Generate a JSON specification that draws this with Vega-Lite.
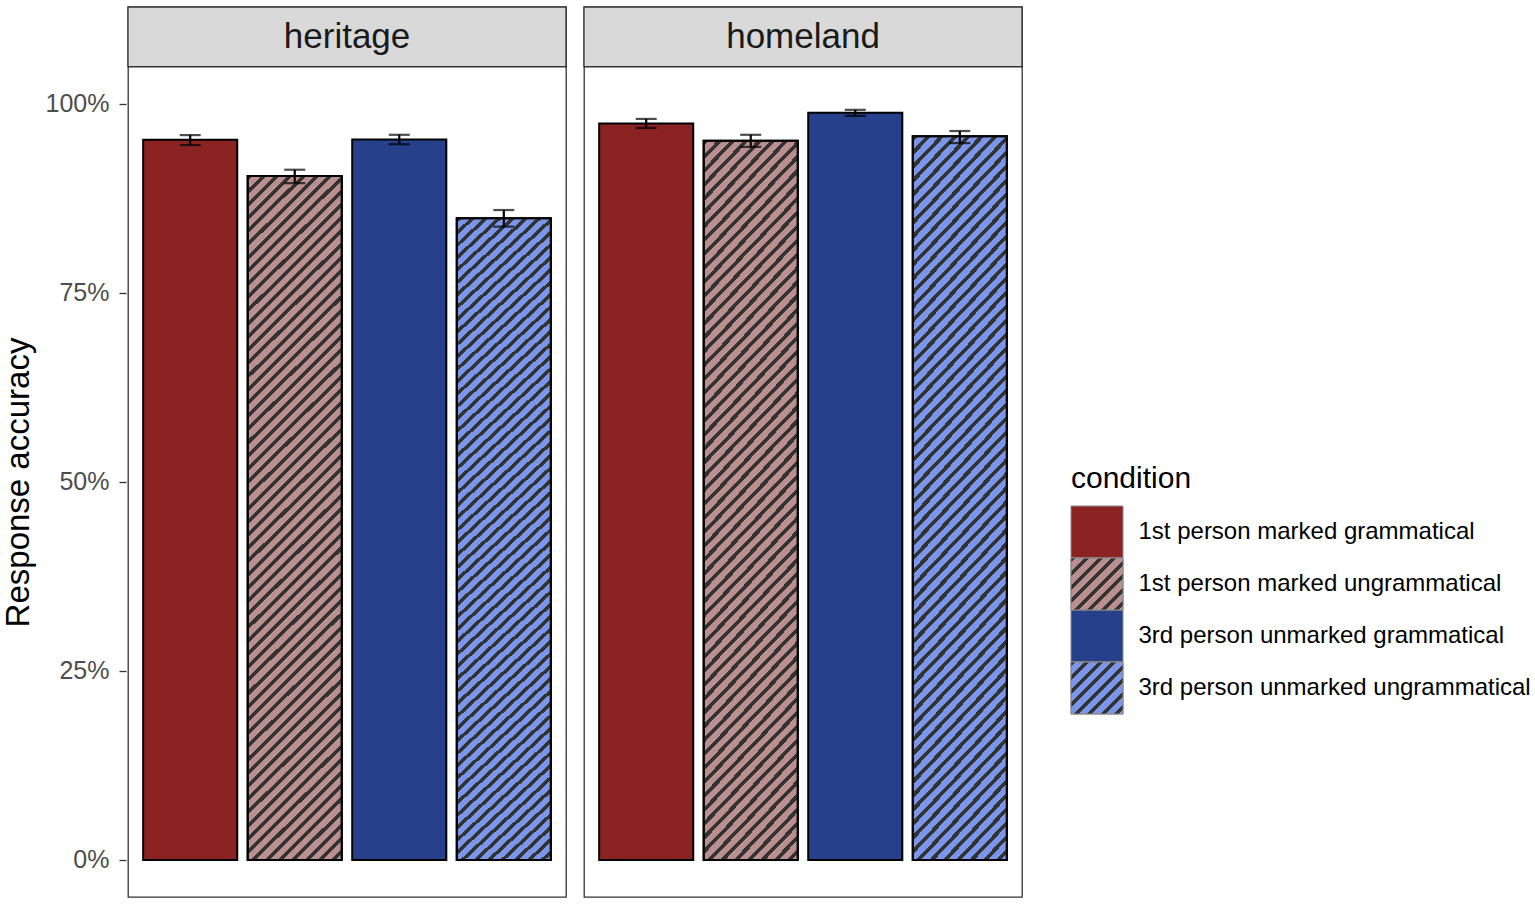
{
  "$schema": "https://vega.github.io/schema/vega-lite/v6.json",
  "background": "white",
  "padding": {"left": 2, "top": 5, "right": 5, "bottom": 5},
  "data": {
    "values": [
      {"group": "heritage", "condition": "1st person marked grammatical", "acc": 0.9525, "lo": 0.9454, "hi": 0.9586},
      {"group": "heritage", "condition": "1st person marked ungrammatical", "acc": 0.9044, "lo": 0.895, "hi": 0.9128},
      {"group": "heritage", "condition": "3rd person unmarked grammatical", "acc": 0.9528, "lo": 0.9465, "hi": 0.959},
      {"group": "heritage", "condition": "3rd person unmarked ungrammatical", "acc": 0.8485, "lo": 0.8375, "hi": 0.8595},
      {"group": "homeland", "condition": "1st person marked grammatical", "acc": 0.974, "lo": 0.968, "hi": 0.98},
      {"group": "homeland", "condition": "1st person marked ungrammatical", "acc": 0.951, "lo": 0.943, "hi": 0.959},
      {"group": "homeland", "condition": "3rd person unmarked grammatical", "acc": 0.988, "lo": 0.984, "hi": 0.992},
      {"group": "homeland", "condition": "3rd person unmarked ungrammatical", "acc": 0.957, "lo": 0.948, "hi": 0.964}
    ]
  },
  "spacing": 46,
  "hconcat": [
    {
      "facet": {
        "column": {"field": "group", "type": "nominal", "header": {"title": null, "labels": false}}
      },
      "spacing": 14,
      "spec": {
        "width": 438,
        "height": 890,
        "layer": [
          {
            "transform": [{"filter": "datum.condition === '1st person marked grammatical'"}],
            "mark": {"type": "rect", "fill": "#D9D9D9", "stroke": "#333333", "strokeWidth": 1.3},
            "encoding": {
              "x": {"value": 0},
              "x2": {"value": "width"},
              "y": {"datum": 1.049, "type": "quantitative"},
              "y2": {"datum": 1.128}
            }
          },
          {
            "mark": {"type": "bar", "stroke": "black", "strokeWidth": 2},
            "encoding": {
              "x": {
                "field": "condition", "type": "nominal", "axis": null,
                "scale": {"paddingInner": 0.1, "paddingOuter": 0.145}
              },
              "y": {
                "field": "acc", "type": "quantitative", "title": "Response accuracy",
                "scale": {"domain": [-0.049, 1.128], "nice": false, "zero": false},
                "axis": {
                  "title": "Response accuracy",
                  "values": [0, 0.25, 0.5, 0.75, 1],
                  "format": ".0%",
                  "grid": false,
                  "domain": false,
                  "labelFontSize": 25,
                  "labelColor": "#4d4d4d",
                  "tickColor": "#333333",
                  "tickSize": 7,
                  "tickWidth": 1.3,
                  "labelPadding": 10,
                  "titleFontSize": 33,
                  "titleFontWeight": "normal",
                  "titleColor": "black",
                  "titlePadding": 10,
                  "titleY": 475
                }
              },
              "y2": {"datum": 0},
              "fill": {
                "field": "condition", "type": "nominal", "legend": null,
                "scale": {
                  "domain": ["1st person marked grammatical", "1st person marked ungrammatical", "3rd person unmarked grammatical", "3rd person unmarked ungrammatical"],
                  "range": ["#8B2323", "#BC8F8F", "#27408B", "#7A96EA"]
                }
              }
            }
          },
          {
            "transform": [{"filter": "indexof(datum.condition, 'ungrammatical') >= 0"}],
            "mark": {
              "type": "bar", "stroke": "black", "strokeWidth": 2,
              "fill": {
                "gradient": "linear", "x1": 0, "y1": 0, "x2": 0.152, "y2": 1.1155,
                "stops": [
                  {"offset": 0, "color": "#333333"}, {"offset": 0.0065, "color": "#333333"}, {"offset": 0.0065, "color": "transparent"}, {"offset": 0.017, "color": "transparent"},
                  {"offset": 0.017, "color": "#333333"}, {"offset": 0.0235, "color": "#333333"}, {"offset": 0.0235, "color": "transparent"}, {"offset": 0.034, "color": "transparent"},
                  {"offset": 0.034, "color": "#333333"}, {"offset": 0.0405, "color": "#333333"}, {"offset": 0.0405, "color": "transparent"}, {"offset": 0.051, "color": "transparent"},
                  {"offset": 0.051, "color": "#333333"}, {"offset": 0.0575, "color": "#333333"}, {"offset": 0.0575, "color": "transparent"}, {"offset": 0.068, "color": "transparent"},
                  {"offset": 0.068, "color": "#333333"}, {"offset": 0.0745, "color": "#333333"}, {"offset": 0.0745, "color": "transparent"}, {"offset": 0.085, "color": "transparent"},
                  {"offset": 0.085, "color": "#333333"}, {"offset": 0.0915, "color": "#333333"}, {"offset": 0.0915, "color": "transparent"}, {"offset": 0.102, "color": "transparent"},
                  {"offset": 0.102, "color": "#333333"}, {"offset": 0.1085, "color": "#333333"}, {"offset": 0.1085, "color": "transparent"}, {"offset": 0.119, "color": "transparent"},
                  {"offset": 0.119, "color": "#333333"}, {"offset": 0.1255, "color": "#333333"}, {"offset": 0.1255, "color": "transparent"}, {"offset": 0.136, "color": "transparent"},
                  {"offset": 0.136, "color": "#333333"}, {"offset": 0.1425, "color": "#333333"}, {"offset": 0.1425, "color": "transparent"}, {"offset": 0.153, "color": "transparent"},
                  {"offset": 0.153, "color": "#333333"}, {"offset": 0.1595, "color": "#333333"}, {"offset": 0.1595, "color": "transparent"}, {"offset": 0.17, "color": "transparent"},
                  {"offset": 0.17, "color": "#333333"}, {"offset": 0.1765, "color": "#333333"}, {"offset": 0.1765, "color": "transparent"}, {"offset": 0.187, "color": "transparent"},
                  {"offset": 0.187, "color": "#333333"}, {"offset": 0.1935, "color": "#333333"}, {"offset": 0.1935, "color": "transparent"}, {"offset": 0.204, "color": "transparent"},
                  {"offset": 0.204, "color": "#333333"}, {"offset": 0.2105, "color": "#333333"}, {"offset": 0.2105, "color": "transparent"}, {"offset": 0.221, "color": "transparent"},
                  {"offset": 0.221, "color": "#333333"}, {"offset": 0.2275, "color": "#333333"}, {"offset": 0.2275, "color": "transparent"}, {"offset": 0.238, "color": "transparent"},
                  {"offset": 0.238, "color": "#333333"}, {"offset": 0.2445, "color": "#333333"}, {"offset": 0.2445, "color": "transparent"}, {"offset": 0.255, "color": "transparent"},
                  {"offset": 0.255, "color": "#333333"}, {"offset": 0.2615, "color": "#333333"}, {"offset": 0.2615, "color": "transparent"}, {"offset": 0.272, "color": "transparent"},
                  {"offset": 0.272, "color": "#333333"}, {"offset": 0.2785, "color": "#333333"}, {"offset": 0.2785, "color": "transparent"}, {"offset": 0.289, "color": "transparent"},
                  {"offset": 0.289, "color": "#333333"}, {"offset": 0.2955, "color": "#333333"}, {"offset": 0.2955, "color": "transparent"}, {"offset": 0.306, "color": "transparent"},
                  {"offset": 0.306, "color": "#333333"}, {"offset": 0.3125, "color": "#333333"}, {"offset": 0.3125, "color": "transparent"}, {"offset": 0.323, "color": "transparent"},
                  {"offset": 0.323, "color": "#333333"}, {"offset": 0.3295, "color": "#333333"}, {"offset": 0.3295, "color": "transparent"}, {"offset": 0.34, "color": "transparent"},
                  {"offset": 0.34, "color": "#333333"}, {"offset": 0.3465, "color": "#333333"}, {"offset": 0.3465, "color": "transparent"}, {"offset": 0.357, "color": "transparent"},
                  {"offset": 0.357, "color": "#333333"}, {"offset": 0.3635, "color": "#333333"}, {"offset": 0.3635, "color": "transparent"}, {"offset": 0.374, "color": "transparent"},
                  {"offset": 0.374, "color": "#333333"}, {"offset": 0.3805, "color": "#333333"}, {"offset": 0.3805, "color": "transparent"}, {"offset": 0.391, "color": "transparent"},
                  {"offset": 0.391, "color": "#333333"}, {"offset": 0.3975, "color": "#333333"}, {"offset": 0.3975, "color": "transparent"}, {"offset": 0.408, "color": "transparent"},
                  {"offset": 0.408, "color": "#333333"}, {"offset": 0.4145, "color": "#333333"}, {"offset": 0.4145, "color": "transparent"}, {"offset": 0.425, "color": "transparent"},
                  {"offset": 0.425, "color": "#333333"}, {"offset": 0.4315, "color": "#333333"}, {"offset": 0.4315, "color": "transparent"}, {"offset": 0.442, "color": "transparent"},
                  {"offset": 0.442, "color": "#333333"}, {"offset": 0.4485, "color": "#333333"}, {"offset": 0.4485, "color": "transparent"}, {"offset": 0.459, "color": "transparent"},
                  {"offset": 0.459, "color": "#333333"}, {"offset": 0.4655, "color": "#333333"}, {"offset": 0.4655, "color": "transparent"}, {"offset": 0.476, "color": "transparent"},
                  {"offset": 0.476, "color": "#333333"}, {"offset": 0.4825, "color": "#333333"}, {"offset": 0.4825, "color": "transparent"}, {"offset": 0.493, "color": "transparent"},
                  {"offset": 0.493, "color": "#333333"}, {"offset": 0.4995, "color": "#333333"}, {"offset": 0.4995, "color": "transparent"}, {"offset": 0.51, "color": "transparent"},
                  {"offset": 0.51, "color": "#333333"}, {"offset": 0.5165, "color": "#333333"}, {"offset": 0.5165, "color": "transparent"}, {"offset": 0.527, "color": "transparent"},
                  {"offset": 0.527, "color": "#333333"}, {"offset": 0.5335, "color": "#333333"}, {"offset": 0.5335, "color": "transparent"}, {"offset": 0.544, "color": "transparent"},
                  {"offset": 0.544, "color": "#333333"}, {"offset": 0.5505, "color": "#333333"}, {"offset": 0.5505, "color": "transparent"}, {"offset": 0.561, "color": "transparent"},
                  {"offset": 0.561, "color": "#333333"}, {"offset": 0.5675, "color": "#333333"}, {"offset": 0.5675, "color": "transparent"}, {"offset": 0.578, "color": "transparent"},
                  {"offset": 0.578, "color": "#333333"}, {"offset": 0.5845, "color": "#333333"}, {"offset": 0.5845, "color": "transparent"}, {"offset": 0.595, "color": "transparent"},
                  {"offset": 0.595, "color": "#333333"}, {"offset": 0.6015, "color": "#333333"}, {"offset": 0.6015, "color": "transparent"}, {"offset": 0.612, "color": "transparent"},
                  {"offset": 0.612, "color": "#333333"}, {"offset": 0.6185, "color": "#333333"}, {"offset": 0.6185, "color": "transparent"}, {"offset": 0.629, "color": "transparent"},
                  {"offset": 0.629, "color": "#333333"}, {"offset": 0.6355, "color": "#333333"}, {"offset": 0.6355, "color": "transparent"}, {"offset": 0.646, "color": "transparent"},
                  {"offset": 0.646, "color": "#333333"}, {"offset": 0.6525, "color": "#333333"}, {"offset": 0.6525, "color": "transparent"}, {"offset": 0.663, "color": "transparent"},
                  {"offset": 0.663, "color": "#333333"}, {"offset": 0.6695, "color": "#333333"}, {"offset": 0.6695, "color": "transparent"}, {"offset": 0.68, "color": "transparent"},
                  {"offset": 0.68, "color": "#333333"}, {"offset": 0.6865, "color": "#333333"}, {"offset": 0.6865, "color": "transparent"}, {"offset": 0.697, "color": "transparent"},
                  {"offset": 0.697, "color": "#333333"}, {"offset": 0.7035, "color": "#333333"}, {"offset": 0.7035, "color": "transparent"}, {"offset": 0.714, "color": "transparent"},
                  {"offset": 0.714, "color": "#333333"}, {"offset": 0.7205, "color": "#333333"}, {"offset": 0.7205, "color": "transparent"}, {"offset": 0.731, "color": "transparent"},
                  {"offset": 0.731, "color": "#333333"}, {"offset": 0.7375, "color": "#333333"}, {"offset": 0.7375, "color": "transparent"}, {"offset": 0.748, "color": "transparent"},
                  {"offset": 0.748, "color": "#333333"}, {"offset": 0.7545, "color": "#333333"}, {"offset": 0.7545, "color": "transparent"}, {"offset": 0.765, "color": "transparent"},
                  {"offset": 0.765, "color": "#333333"}, {"offset": 0.7715, "color": "#333333"}, {"offset": 0.7715, "color": "transparent"}, {"offset": 0.782, "color": "transparent"},
                  {"offset": 0.782, "color": "#333333"}, {"offset": 0.7885, "color": "#333333"}, {"offset": 0.7885, "color": "transparent"}, {"offset": 0.799, "color": "transparent"},
                  {"offset": 0.799, "color": "#333333"}, {"offset": 0.8055, "color": "#333333"}, {"offset": 0.8055, "color": "transparent"}, {"offset": 0.816, "color": "transparent"},
                  {"offset": 0.816, "color": "#333333"}, {"offset": 0.8225, "color": "#333333"}, {"offset": 0.8225, "color": "transparent"}, {"offset": 0.833, "color": "transparent"},
                  {"offset": 0.833, "color": "#333333"}, {"offset": 0.8395, "color": "#333333"}, {"offset": 0.8395, "color": "transparent"}, {"offset": 0.85, "color": "transparent"},
                  {"offset": 0.85, "color": "#333333"}, {"offset": 0.8565, "color": "#333333"}, {"offset": 0.8565, "color": "transparent"}, {"offset": 0.867, "color": "transparent"},
                  {"offset": 0.867, "color": "#333333"}, {"offset": 0.8735, "color": "#333333"}, {"offset": 0.8735, "color": "transparent"}, {"offset": 0.884, "color": "transparent"},
                  {"offset": 0.884, "color": "#333333"}, {"offset": 0.8905, "color": "#333333"}, {"offset": 0.8905, "color": "transparent"}, {"offset": 0.901, "color": "transparent"},
                  {"offset": 0.901, "color": "#333333"}, {"offset": 0.9075, "color": "#333333"}, {"offset": 0.9075, "color": "transparent"}, {"offset": 0.918, "color": "transparent"},
                  {"offset": 0.918, "color": "#333333"}, {"offset": 0.9245, "color": "#333333"}, {"offset": 0.9245, "color": "transparent"}, {"offset": 0.935, "color": "transparent"},
                  {"offset": 0.935, "color": "#333333"}, {"offset": 0.9415, "color": "#333333"}, {"offset": 0.9415, "color": "transparent"}, {"offset": 0.952, "color": "transparent"},
                  {"offset": 0.952, "color": "#333333"}, {"offset": 0.9585, "color": "#333333"}, {"offset": 0.9585, "color": "transparent"}, {"offset": 0.969, "color": "transparent"},
                  {"offset": 0.969, "color": "#333333"}, {"offset": 0.9755, "color": "#333333"}, {"offset": 0.9755, "color": "transparent"}, {"offset": 0.986, "color": "transparent"},
                  {"offset": 0.986, "color": "#333333"}, {"offset": 0.9925, "color": "#333333"}, {"offset": 0.9925, "color": "transparent"}, {"offset": 1, "color": "transparent"}
                ]
              }
            },
            "encoding": {
              "x": {"field": "condition", "type": "nominal"},
              "y": {"field": "acc", "type": "quantitative"},
              "y2": {"datum": 0}
            }
          },
          {
            "mark": {
              "type": "errorbar",
              "ticks": {"size": 21, "thickness": 2.2, "color": "black"},
              "rule": {"strokeWidth": 2.2, "color": "black"}
            },
            "encoding": {
              "x": {"field": "condition", "type": "nominal"},
              "y": {"field": "lo", "type": "quantitative", "title": "Response accuracy"},
              "y2": {"field": "hi"}
            }
          },
          {
            "transform": [{"filter": "datum.condition === '1st person marked grammatical'"}],
            "mark": {"type": "text", "fontSize": 35, "color": "#1a1a1a", "baseline": "middle", "align": "center"},
            "encoding": {
              "x": {"datum": "3rd person unmarked grammatical", "type": "nominal", "bandPosition": -0.055},
              "y": {"datum": 1.0885, "type": "quantitative"},
              "text": {"field": "group"}
            }
          }
        ]
      }
    },
    {
      "width": 52,
      "height": 890,
      "view": {"stroke": null},
      "transform": [{"filter": "datum.group === 'heritage'"}],
      "layer": [
        {
          "mark": {"type": "rect", "stroke": "#8c8c8c", "strokeWidth": 1},
          "encoding": {
            "y": {
              "field": "condition", "type": "nominal",
              "scale": {
                "domain": ["1st person marked grammatical", "1st person marked ungrammatical", "3rd person unmarked grammatical", "3rd person unmarked ungrammatical"],
                "paddingInner": 0, "paddingOuter": 0, "range": [499, 707]
              },
              "axis": {
                "orient": "right", "title": null, "ticks": false, "domain": false,
                "labelFontSize": 24, "labelColor": "black", "labelPadding": 15, "labelLimit": 600
              }
            },
            "x": {"value": 0},
            "x2": {"value": "width"},
            "fill": {
              "field": "condition", "type": "nominal", "legend": null,
              "scale": {
                "domain": ["1st person marked grammatical", "1st person marked ungrammatical", "3rd person unmarked grammatical", "3rd person unmarked ungrammatical"],
                "range": ["#8B2323", "#BC8F8F", "#27408B", "#7A96EA"]
              }
            }
          }
        },
        {
          "transform": [{"filter": "indexof(datum.condition, 'ungrammatical') >= 0"}],
          "mark": {
            "type": "rect", "stroke": "#8c8c8c", "strokeWidth": 1,
            "fill": {
              "gradient": "linear", "x1": 0, "y1": 0, "x2": 1, "y2": 1,
              "stops": [
                {"offset": 0, "color": "#333333"}, {"offset": 0.048, "color": "#333333"}, {"offset": 0.048, "color": "transparent"}, {"offset": 0.13, "color": "transparent"},
                {"offset": 0.13, "color": "#333333"}, {"offset": 0.178, "color": "#333333"}, {"offset": 0.178, "color": "transparent"}, {"offset": 0.26, "color": "transparent"},
                {"offset": 0.26, "color": "#333333"}, {"offset": 0.308, "color": "#333333"}, {"offset": 0.308, "color": "transparent"}, {"offset": 0.39, "color": "transparent"},
                {"offset": 0.39, "color": "#333333"}, {"offset": 0.438, "color": "#333333"}, {"offset": 0.438, "color": "transparent"}, {"offset": 0.52, "color": "transparent"},
                {"offset": 0.52, "color": "#333333"}, {"offset": 0.568, "color": "#333333"}, {"offset": 0.568, "color": "transparent"}, {"offset": 0.65, "color": "transparent"},
                {"offset": 0.65, "color": "#333333"}, {"offset": 0.698, "color": "#333333"}, {"offset": 0.698, "color": "transparent"}, {"offset": 0.78, "color": "transparent"},
                {"offset": 0.78, "color": "#333333"}, {"offset": 0.828, "color": "#333333"}, {"offset": 0.828, "color": "transparent"}, {"offset": 0.91, "color": "transparent"},
                {"offset": 0.91, "color": "#333333"}, {"offset": 0.958, "color": "#333333"}, {"offset": 0.958, "color": "transparent"}, {"offset": 1, "color": "transparent"}
              ]
            }
          },
          "encoding": {
            "y": {"field": "condition", "type": "nominal"},
            "x": {"value": 0},
            "x2": {"value": "width"}
          }
        },
        {
          "transform": [{"filter": "datum.condition === '1st person marked grammatical'"}],
          "mark": {"type": "text", "text": "condition", "fontSize": 30, "color": "black", "align": "left", "baseline": "middle"},
          "encoding": {
            "y": {"datum": "1st person marked grammatical", "type": "nominal", "bandPosition": -0.52},
            "x": {"value": 0}
          }
        }
      ]
    }
  ],
  "config": {
    "font": "Liberation Sans",
    "view": {"stroke": "#333333", "strokeWidth": 1.3}
  }
}
